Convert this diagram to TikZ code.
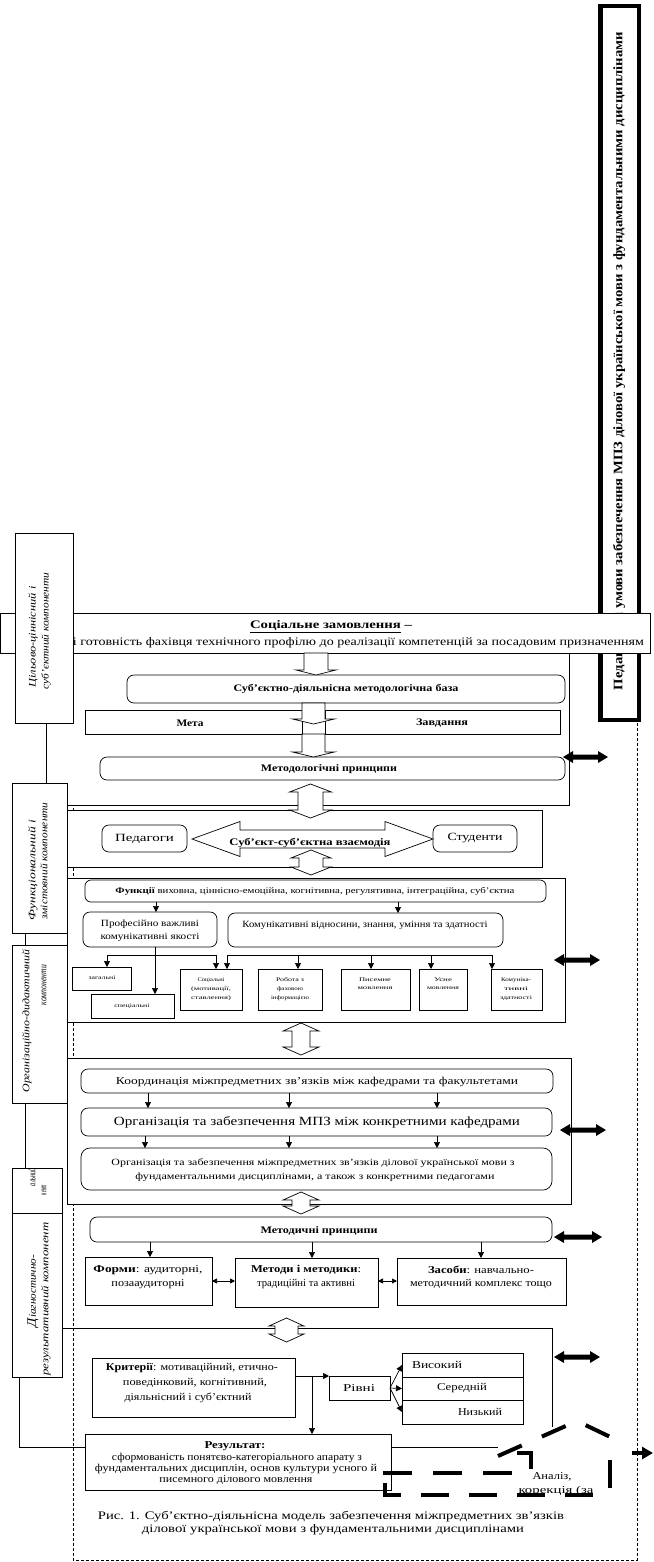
\documentclass[tikz,border=0pt]{standalone}
\usepackage{fontspec}
\setmainfont{Liberation Serif}
\usepackage{graphicx}
\usetikzlibrary{arrows.meta,fit}
\newcommand\tw[2]{\resizebox{#1pt}{\height}{#2}}
\newcommand\fs[1]{\fontsize{#1}{#1}\selectfont}
\newcommand\hdv[5]{\draw[hollow] (#1-#4,#2+8) -- (#1-#5,#2+8) -- (#1,#2) -- (#1+#5,#2+8) -- (#1+#4,#2+8) -- (#1+#4,#3-8) -- (#1+#5,#3-8) -- (#1,#3) -- (#1-#5,#3-8) -- (#1-#4,#3-8) -- cycle;}
\newcommand\hdown[6]{\draw[hollow] (#1-#4,#2) -- (#1-#4,#3-#6) -- (#1-#5,#3-#6) -- (#1,#3) -- (#1+#5,#3-#6) -- (#1+#4,#3-#6) -- (#1+#4,#2) -- cycle;}
\newcommand\bda[3]{\fill (#1,#3) -- (#1+10,#3-6) -- (#1+10,#3-2.5) -- (#2-10,#3-2.5) -- (#2-10,#3-6) -- (#2,#3) -- (#2-10,#3+6) -- (#2-10,#3+2.5) -- (#1+10,#3+2.5) -- (#1+10,#3+6) -- cycle;}
\begin{document}
\begin{tikzpicture}[x=1pt,y=-1pt,
 every node/.style={inner sep=0pt,outer sep=0pt},
 box/.style={draw,fill=white,line width=0.7pt},
 rbox/.style={box,rounded corners=7pt},
 hollow/.style={draw,fill=white,line width=0.7pt},
 ln/.style={line width=0.7pt},
 tri/.style={ln,-{Triangle[length=6pt,width=6pt]}},
 tri2/.style={ln,{Triangle[length=5pt,width=5pt]}-{Triangle[length=5pt,width=5pt]}},
 dsh/.style={line width=0.6pt,dash pattern=on 3pt off 2pt},
 thd/.style={line width=4pt,dash pattern=on 29pt off 21pt},
 lab/.style={rotate=90,font=\itshape\fs{10}},
]
\useasboundingbox[fill=white] (0,0) rectangle (653,1562);
% frame
\draw[dsh] (637,723) -- (637,1560) -- (73,1560) -- (73,805);
\draw[ln] (569,653) -- (569,805) -- (67,805);
% right box
\node[draw,line width=4.5pt,fit={(600.25,6.25)(638.75,719.75)}] (cond) {};
\node[rotate=90] (condt) at (619,361) {\tw{658}{\bfseries\fs{13}Педагогічні умови забезпечення МПЗ ділової української мови з фундаментальними дисциплінами}};
% social order
\node[box,fit={(0.5,613)(650.5,653)}] (soc) {};
\node (soct1) at (331,627) {\tw{162}{\bfseries\fs{11.5}\underline{Соціальне замовлення} –}};
\node (soct2) at (358.5,643) {\tw{571}{\fs{11.5}і готовність фахівця технічного профілю до реалізації компетенцій за посадовим призначенням}};
% label 1
\node[box,fit={(15,533)(73,723)}] (L1) {};
\node[lab] at (33,637) {\tw{101}{Цільово-ціннісний і}};
\node[lab] at (46,631) {\tw{117}{суб’єктний компоненти}};
% base
\node[rbox,fit={(127,675)(565,703)}] (base) {};
\node at (346,689) {\tw{225}{\bfseries\fs{10}Суб’єктно-діяльнісна методологічна база}};
\node[box,fit={(85,710)(302,734)}] (meta) {};
\node[box,fit={(325,710)(560,734)}] (tasks) {};
\node at (190,723) {\tw{27}{\bfseries\fs{10}Мета}};
\node at (442,723) {\tw{52}{\bfseries\fs{10}Завдання}};
\node[rbox,fit={(100,757)(565,780)}] (mprin) {};
\node at (329,769) {\tw{136}{\bfseries\fs{10}Методологічні принципи}};
\hdown{316}{653}{675}{12}{20}{5}
\hdown{313.5}{703}{724}{11.5}{21}{5}
\hdown{313.5}{734}{757}{11.5}{21}{5}
\bda{563}{608}{757}
% group 2
\node[box,fit={(67,810)(542,867)}] (g2) {};
\node[rbox,fit={(102,825)(187,852)}] (ped) {};
\node at (144.5,838.5) {\tw{59}{\fs{11}Педагоги}};
\node[rbox,fit={(433,825)(517,852)}] (stud) {};
\node at (475,838.5) {\tw{55}{\fs{11}Студенти}};
\draw[hollow] (192,839) -- (240,821.5) -- (240,830) -- (385,830) -- (385,821.5) -- (433,839) -- (385,856.5) -- (385,848) -- (240,848) -- (240,856.5) -- cycle;
\node at (310,843) {\tw{161}{\bfseries\fs{10}Суб’єкт-суб’єктна взаємодія}};
\hdv{310.5}{784}{818}{12.5}{21}
\hdv{311}{850}{875}{12}{20}
% group 3
\node[box,fit={(67,878)(565,1022)}] (g3) {};
\node[rbox,rounded corners=6pt,fit={(85,880)(546,902)}] (func) {};
\node at (315,891.5) {\tw{399}{\fs{8.5}\textbf{Функції} виховна, ціннісно-емоційна, когнітивна, регулятивна, інтеграційна, суб’єктна}};
\node[rbox,fit={(83,912)(217,947)}] (prof) {};
\node at (150,924) {\tw{98}{\fs{9.5}Професійно важливі}};
\node at (150,937) {\tw{99}{\fs{9.5}комунікативні якості}};
\node[rbox,fit={(228,913)(503,947)}] (komm) {};
\node at (365,925) {\tw{245}{\fs{9.5}Комунікативні відносини, знання, уміння та здатності}};
\draw[tri] (156,0 |- func.south) -- (156,0 |- prof.north);
\draw[tri] (398,0 |- func.south) -- (398,0 |- komm.north);
\node[box,fit={(72,967)(131,990)}] (zag) {};
\node at (102,978) {\tw{27}{\fs{5.5}загальні}};
\node[box,fit={(91,994)(174,1018)}] (spec) {};
\node at (132,1006) {\tw{35}{\fs{5.5}спеціальні}};
\node[box,fit={(180,969)(242,1010)}] (soc2) {};
\node at (211,980) {\tw{27}{\fs{5.5}Соціальні}};
\node at (211,989) {\tw{40}{\fs{5.5}(мотивації,}};
\node at (211,998) {\tw{40}{\fs{5.5}ставлення)}};
\node[box,fit={(258,969)(322,1010)}] (rob) {};
\node at (290,980) {\tw{28}{\fs{5.5}Робота з}};
\node at (290,989) {\tw{26}{\fs{5.5}фаховою}};
\node at (290,998) {\tw{38}{\fs{5.5}інформацією}};
\node[box,fit={(341,969)(410,1010)}] (pys) {};
\node at (375,980) {\tw{32}{\fs{5.5}Писемне}};
\node at (375,988) {\tw{35}{\fs{5.5}мовлення}};
\node[box,fit={(419,969)(467,1010)}] (usne) {};
\node at (443,980) {\tw{18}{\fs{5.5}Усне}};
\node at (443,988) {\tw{32}{\fs{5.5}мовлення}};
\node[box,fit={(491,969)(542,1010)}] (kzd) {};
\node at (516,980) {\tw{30}{\fs{5.5}Комуніка-}};
\node at (516,989) {\tw{24}{\fs{5.5}тивні}};
\node at (516,998) {\tw{32}{\fs{5.5}здатності}};
\draw[tri] (155,0 |- prof.south) -- (155,0 |- spec.north);
\draw[ln] (107,955) -- (216,955);
\draw[tri] (107,955) -- (107,0 |- zag.north);
\draw[tri] (216,955) -- (216,0 |- soc2.north);
\draw[ln] (227,955) -- (492,955);
\draw[tri] (227,955) -- (227,0 |- soc2.north);
\draw[tri] (298,955) -- (298,0 |- rob.north);
\draw[tri] (371,955) -- (371,0 |- pys.north);
\draw[tri] (431,955) -- (431,0 |- usne.north);
\draw[tri] (492,955) -- (492,0 |- kzd.north);
\bda{554}{600}{960}
% group 4
\node[box,fit={(67,1058)(571,1204)}] (g4) {};
\hdv{301}{1023}{1055}{9}{18}
\node[rbox,fit={(81,1069)(553,1093)}] (coord) {};
\node at (317,1082) {\tw{402}{\fs{10.5}Координація міжпредметних зв’язків між кафедрами та факультетами}};
\node[rbox,fit={(81,1108)(552,1136)}] (orgm) {};
\node at (317,1122) {\tw{406}{\fs{12.5}Організація та забезпечення МПЗ між конкретними кафедрами}};
\node[rbox,rounded corners=9pt,fit={(81,1148)(552,1190)}] (orgl) {};
\node at (313,1163) {\tw{403}{\fs{9.5}Організація та забезпечення міжпредметних зв’язків ділової української мови з}};
\node at (315,1177) {\tw{359}{\fs{9.5}фундаментальними дисциплінами, а також з конкретними педагогами}};
\draw[tri] (148,0 |- coord.south) -- (148,0 |- orgm.north);
\draw[tri] (289,0 |- coord.south) -- (289,0 |- orgm.north);
\draw[tri] (437,0 |- coord.south) -- (437,0 |- orgm.north);
\draw[tri] (145,0 |- orgm.south) -- (145,0 |- orgl.north);
\draw[tri] (289,0 |- orgm.south) -- (289,0 |- orgl.north);
\draw[tri] (437,0 |- orgm.south) -- (437,0 |- orgl.north);
\bda{560}{606}{1130}
% methodical
\node[rbox,fit={(90,1217)(552,1242)}] (mprin2) {};
\node at (319,1231) {\tw{117}{\bfseries\fs{10}Методичні принципи}};
\hdv{301}{1192}{1214}{9}{18}
\bda{554}{602}{1237}
\node[box,fit={(85,1257)(212,1305)}] (form) {};
\node at (148,1270) {\tw{109}{\fs{10.5}\textbf{Форми}: аудиторні,}};
\node at (148,1284) {\tw{73}{\fs{10.5}позааудиторні}};
\node[box,fit={(235,1258)(378,1307)}] (meth) {};
\node at (306,1270) {\tw{110}{\fs{10.5}\textbf{Методи і методики}:}};
\node at (306,1284) {\tw{98}{\fs{10.5}традиційні та активні}};
\node[box,fit={(397,1258)(566,1305)}] (zas) {};
\node at (481,1270) {\tw{106}{\fs{10.5}\textbf{Засоби}: навчально-}};
\node at (481,1284) {\tw{142}{\fs{10.5}методичний комплекс тощо}};
\draw[tri] (150,0 |- mprin2.south) -- (150,0 |- form.north);
\draw[tri] (312,0 |- mprin2.south) -- (312,0 |- meth.north);
\draw[tri] (481,0 |- mprin2.south) -- (481,0 |- zas.north);
\draw[tri2] (form.east |- 0,1281) -- (meth.west |- 0,1281);
\draw[tri2] (meth.east |- 0,1281) -- (zas.west |- 0,1281);
% group 5
\draw[ln] (62,1328) -- (552,1328) -- (552,1427);
\hdv{286.5}{1318}{1342}{11.5}{17.5}
\bda{554}{600}{1357}
\node[box,fit={(92,1358)(295,1417)}] (krit) {};
\node at (192,1368) {\tw{172}{\fs{10.5}\textbf{Критерії}: мотиваційний, етично-}};
\node at (195,1383) {\tw{144}{\fs{10.5}поведінковий, когнітивний,}};
\node at (188,1398) {\tw{127}{\fs{10.5}діяльнісний і суб’єктний}};
\node[box,fit={(329,1376)(390,1400)}] (rivni) {};
\node at (359,1388.5) {\tw{32}{\fs{10.5}Рівні}};
\node[box,fit={(402,1353)(523,1377)}] (vys) {};
\node[box,fit={(402,1377)(523,1400)}] (ser) {};
\node[box,fit={(402,1400)(523,1424)}] (nyz) {};
\node at (437,1365) {\tw{50}{\fs{10.5}Високий}};
\node at (462,1388.5) {\tw{50}{\fs{10.5}Середній}};
\node at (480,1412) {\tw{44}{\fs{10.5}Низький}};
\draw[tri] (krit.east |- 0,1376) -- (rivni.west |- 0,1376);
\draw[tri] (rivni.east) -- (vys.west);
\draw[tri] (rivni.east) -- (ser.west);
\draw[tri] (rivni.east) -- (nyz.west);
\node[box,fit={(85,1434)(391,1490)}] (res) {};
\draw[tri] (312,1376) -- (312,0 |- res.north);
\node at (235,1446) {\tw{61}{\bfseries\fs{10.5}Результат:}};
\node at (237,1458) {\tw{250}{\fs{10.5}сформованість понятєво-категоріального апарату з}};
\node at (236,1469) {\tw{282}{\fs{10.5}фундаментальних дисциплін, основ культури усного й}};
\node at (236,1480) {\tw{153}{\fs{10.5}писемного ділового мовлення}};
\draw[ln] (res.east |- 0,1447) -- (498,1447);
% analysis
\node at (552,1477) {\tw{39}{\fs{10.5}Аналіз,}};
\node at (556,1491) {\tw{75}{\fs{10.5}корекція (за}};
\draw[thd] (383,1473) -- (512,1473);
\draw[line width=4pt] (517,1453) -- (531,1453) -- (531,1469);
\draw[thd,dash pattern=on 28pt off 20pt] (385,1483) -- (385,1495) -- (608,1495);
\draw[line width=4pt] (610,1460) -- (610,1488);
\draw[thd,dash pattern=on 26pt off 22pt] (498,1456) -- (577,1421) -- (625,1444);
\draw[line width=3.5pt,-{Triangle[length=11pt,width=12pt]}] (632,1453) -- (653,1453);
% labels
\node[box,fit={(12,783)(67,933)}] (L2) {};
\node[lab] at (33,870) {\tw{100}{Функціональний і}};
\node[lab] at (44,861) {\tw{117}{змістовний компоненти}};
\node[box,fit={(12,945)(67,1103)}] (L3) {};
\node[lab] at (27,1021) {\tw{143}{Організаційно-дидактичний}};
\node[lab] at (44,985) {\tw{40}{компоненти}};
\node[box,fit={(12,1168)(62,1213)}] (L4) {};
\node[lab] at (32,1177) {\tw{18}{альний}};
\node[lab] at (44,1190) {\tw{10}{нент}};
\node[box,fit={(12,1213)(62,1377)}] (L5) {};
\node[lab] at (33,1291) {\tw{72}{{\fs{13}Д}іагностично-}};
\node[lab] at (46,1299) {\tw{153}{результативний компонент}};
\draw[ln] (L1.south -| 46,0) -- (L2.north -| 46,0);
\draw[ln] (L2.south -| 25,0) -- (L3.north -| 25,0);
\draw[ln] (L3.south -| 25,0) -- (L4.north -| 25,0);
\draw[ln] (L5.south -| 19,0) -- (19,1447) -- (res.west |- 0,1447);
% caption
\node at (331,1517) {\tw{466}{\fs{11.5}Рис. 1. Суб’єктно-діяльнісна модель забезпечення міжпредметних зв’язків}};
\node at (333,1530) {\tw{382}{\fs{11.5}ділової української мови з фундаментальними дисциплінами}};
\end{tikzpicture}
\end{document}
